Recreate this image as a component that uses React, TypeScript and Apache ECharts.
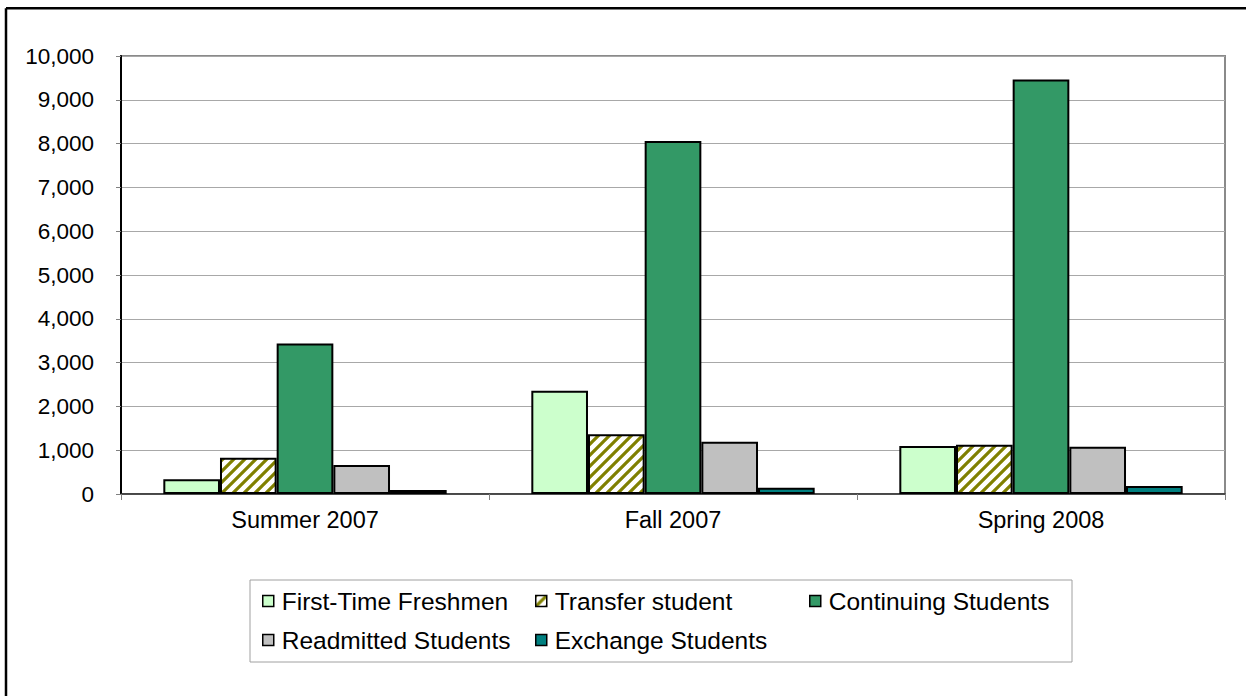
import React, { useEffect, useRef } from "react";
import * as echarts from "echarts";

const categories = ["Summer 2007", "Fall 2007", "Spring 2008"];
const seriesNames = [
  "First-Time Freshmen",
  "Transfer student",
  "Continuing Students",
  "Readmitted Students",
  "Exchange Students",
];
const firstTime = [335, 2360, 1095];
const transfer = [830, 1365, 1125];
const continuing = [3435, 8060, 9465];
const readmitted = [660, 1195, 1080];
const exchange = [90, 140, 180];
const yTicks = [0, 1000, 2000, 3000, 4000, 5000, 6000, 7000, 8000, 9000, 10000];

function stripePattern(): string {
  const c = document.createElement("canvas");
  const s = 11;
  c.width = s;
  c.height = s;
  const ctx = c.getContext("2d")!;
  ctx.fillStyle = "#ffffff";
  ctx.fillRect(0, 0, s, s);
  ctx.strokeStyle = "#808000";
  ctx.lineWidth = 3.2;
  ctx.beginPath();
  ctx.moveTo(-s, s);
  ctx.lineTo(s, -s);
  ctx.moveTo(0, s);
  ctx.lineTo(s, 0);
  ctx.moveTo(0, 2 * s);
  ctx.lineTo(2 * s, 0);
  ctx.stroke();
  return c.toDataURL();
}

export default function App() {
  const ref = useRef<HTMLDivElement>(null);
  useEffect(() => {
    if (!ref.current) return;
    const chart = echarts.init(ref.current, undefined, { renderer: "svg" });
    const font = "Liberation Sans, Arial, sans-serif";
    const pattern = { image: stripePattern(), repeat: "repeat" };
    const colors: any[] = ["#CCFFCC", pattern, "#339966", "#C0C0C0", "#008080"];
    const datas = [firstTime, transfer, continuing, readmitted, exchange];
    const legendPos = [
      { left: 262, top: 588 },
      { left: 535, top: 588 },
      { left: 809, top: 588 },
      { left: 262, top: 627 },
      { left: 535, top: 627 },
    ];
    chart.setOption({
      animation: false,
      backgroundColor: "#ffffff",
      grid: {
        left: 121,
        top: 56,
        right: 21,
        bottom: 202,
        show: true,
        borderColor: "#8a8a8a",
        borderWidth: 2,
      },
      xAxis: {
        type: "category",
        data: categories,
        axisLine: { lineStyle: { color: "#303030", width: 1.5 } },
        axisTick: { show: true, length: 6, lineStyle: { color: "#808080" } },
        axisLabel: { color: "#000", fontFamily: font, fontSize: 23.5, margin: 14 },
      },
      yAxis: {
        type: "value",
        min: 0,
        max: 10000,
        interval: 1000,
        axisLine: { show: true, lineStyle: { color: "#000", width: 2 } },
        axisTick: { show: true, length: 5, lineStyle: { color: "#808080" } },
        axisLabel: {
          color: "#000",
          fontFamily: font,
          fontSize: 22.5,
          margin: 27,
          formatter: (v: number) => (yTicks.indexOf(v) >= 0 ? v.toLocaleString("en-US") : ""),
        },
        splitLine: { lineStyle: { color: "#a8a8a8", width: 1.2 } },
      },
      legend: seriesNames.map((n, i) => ({
        data: [n],
        left: legendPos[i].left,
        top: legendPos[i].top,
        padding: 0,
        itemWidth: 11,
        itemHeight: 11,
        itemGap: 0,
        icon: "rect",
        textStyle: { fontFamily: font, fontSize: 24.5, color: "#000", padding: [0, 0, 0, 3], lineHeight: 26 },
        itemStyle: { borderColor: "#000", borderWidth: 1.5 },
      })),
      graphic: [
        {
          type: "rect",
          shape: { x: 250, y: 580, width: 822, height: 82 },
          style: { fill: "none", stroke: "#a0a0a0", lineWidth: 1 },
          z: -1,
        },
        {
          type: "line",
          shape: { x1: 6, y1: 8.3, x2: 1246, y2: 8.3 },
          style: { stroke: "#000", lineWidth: 2.5 },
        },
        {
          type: "line",
          shape: { x1: 6, y1: 8.3, x2: 6, y2: 696 },
          style: { stroke: "#000", lineWidth: 2.5 },
        },
      ],
      series: seriesNames.map((n, i) => ({
        name: n,
        type: "bar",
        data: datas[i],
        barGap: "0%",
        barCategoryGap: "23%",
        itemStyle: { color: colors[i], borderColor: "#000", borderWidth: 2 },
      })),
    });
    return () => chart.dispose();
  }, []);
  return (
    <div
      ref={ref}
      style={{ position: "fixed", left: 0, top: 0, width: 1246, height: 696, background: "#fff" }}
    />
  );
}
